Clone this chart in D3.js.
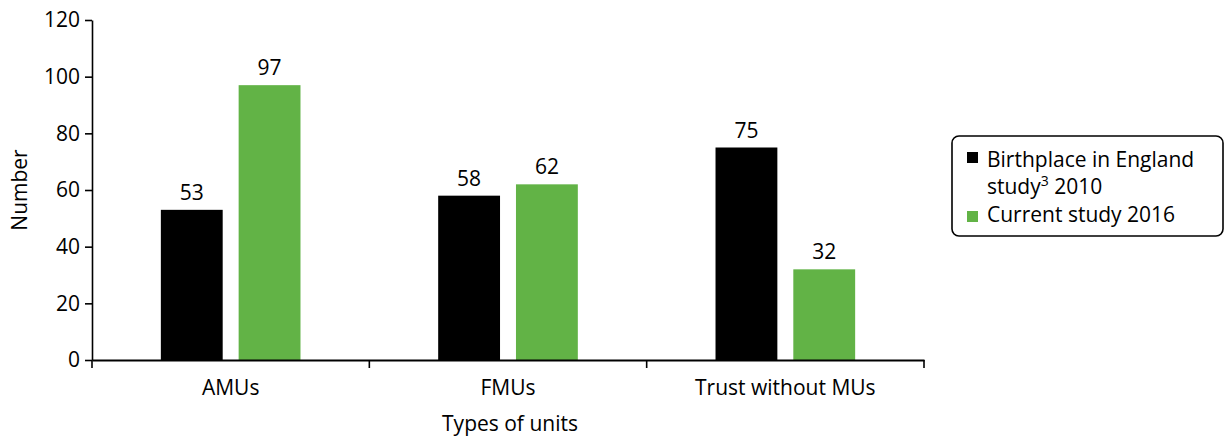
<!DOCTYPE html>
<html>
<head>
<meta charset="utf-8">
<script src="https://cdn.jsdelivr.net/npm/d3@7"></script>
<style>
  body { margin: 0; background: #fff; }
  svg, svg text { font-family: "Open Sans", "Noto Sans", sans-serif; }
</style>
</head>
<body>
<svg id="chart" width="1225" height="437"></svg>
<script>
// data
var categories = ["AMUs", "FMUs", "Trust without MUs"]
var series = ["Birthplace in England study 2010", "Current study 2016"]
var values2010 = [53, 58, 75]
var values2016 = [97, 62, 32]
var yTicks = [0, 20, 40, 60, 80, 100, 120]
var colors = ["#000000", "#62b346"]

var svg = d3.select("#chart")
var margin = ({top: 20, right: 301, bottom: 77, left: 92})
var width = 1225, height = 437
var fs = "21px"

var x = d3.scaleBand()
    .domain(categories)
    .range([margin.left, width - margin.right])

var x1 = d3.scaleBand()
    .domain(d3.range(series.length))
    .range([0, x.bandwidth()])
    .paddingInner(0.205)
    .paddingOuter(0.885)

var y = d3.scaleLinear()
    .domain([0, 120])
    .range([height - margin.bottom, margin.top])

var data = categories.map((c, i) => ({name: c, vals: [values2010[i], values2016[i]]}))

var groups = svg.append("g")
  .selectAll("g")
  .data(data)
  .join("g")
    .attr("transform", d => `translate(${x(d.name)},0)`)

groups.selectAll("rect")
  .data(d => d.vals)
  .join("rect")
    .attr("x", (v, i) => x1(i))
    .attr("y", v => y(v))
    .attr("width", x1.bandwidth())
    .attr("height", v => y(0) - y(v))
    .attr("fill", (v, i) => colors[i])

groups.selectAll("text")
  .data(d => d.vals)
  .join("text")
    .attr("x", (v, i) => x1(i) + x1.bandwidth() / 2)
    .attr("y", v => y(v) - 10)
    .attr("text-anchor", "middle")
    .style("font-size", fs)
    .attr("fill", "#000")
    .text(v => v)

// axes
var yAxis = svg.append("g")
    .attr("transform", `translate(${margin.left},0)`)
    .call(d3.axisLeft(y).tickValues(yTicks).tickSize(7).tickPadding(5).tickSizeOuter(0))
yAxis.attr("font-family", null)
yAxis.selectAll("text").style("font-size", fs).attr("fill", "#000")
yAxis.selectAll("line, path").attr("stroke", "#000").attr("stroke-width", 1.6)

var xAxis = svg.append("g")
    .attr("transform", `translate(0,${y(0)})`)
    .call(d3.axisBottom(x).tickSize(0).tickPadding(20))
xAxis.attr("font-family", null)
xAxis.select(".domain").attr("stroke", "#000").attr("stroke-width", 1.8)
xAxis.selectAll("text").style("font-size", fs).attr("fill", "#000")

// category separator ticks
var sepTicks = categories.map(c => x(c)).concat([x(categories[categories.length - 1]) + x.bandwidth()])
xAxis.selectAll(".sep")
  .data(sepTicks)
  .join("line")
    .attr("class", "sep")
    .attr("x1", d => d).attr("x2", d => d)
    .attr("y1", 0).attr("y2", 8)
    .attr("stroke", "#000").attr("stroke-width", 1.6)

// axis titles
svg.append("text")
    .attr("transform", `translate(27,${(margin.top + y(0)) / 2}) rotate(-90)`)
    .attr("text-anchor", "middle")
    .style("font-size", fs)
    .text("Number")

svg.append("text")
    .attr("x", 510)
    .attr("y", 431)
    .attr("text-anchor", "middle")
    .style("font-size", fs)
    .text("Types of units")

// legend
var legend = svg.append("g").attr("transform", "translate(952,136)")
legend.append("rect")
    .attr("width", 271).attr("height", 100)
    .attr("rx", 7)
    .attr("fill", "#fff").attr("stroke", "#000").attr("stroke-width", 1.6)

legend.append("rect").attr("x", 15).attr("y", 16).attr("width", 11).attr("height", 11).attr("fill", colors[0])
var t1 = legend.append("text").attr("x", 35).attr("y", 31).style("font-size", fs)
t1.text("Birthplace in England")
var t2 = legend.append("text").attr("x", 35).attr("y", 58).style("font-size", fs)
t2.append("tspan").text("study")
t2.append("tspan").attr("dy", -8).style("font-size", "14px").text("3")
t2.append("tspan").attr("dy", 8).text(" 2010")

legend.append("rect").attr("x", 15).attr("y", 75).attr("width", 11).attr("height", 11).attr("fill", colors[1])
legend.append("text").attr("x", 35).attr("y", 86).style("font-size", fs).text("Current study 2016")
</script>
</body>
</html>
